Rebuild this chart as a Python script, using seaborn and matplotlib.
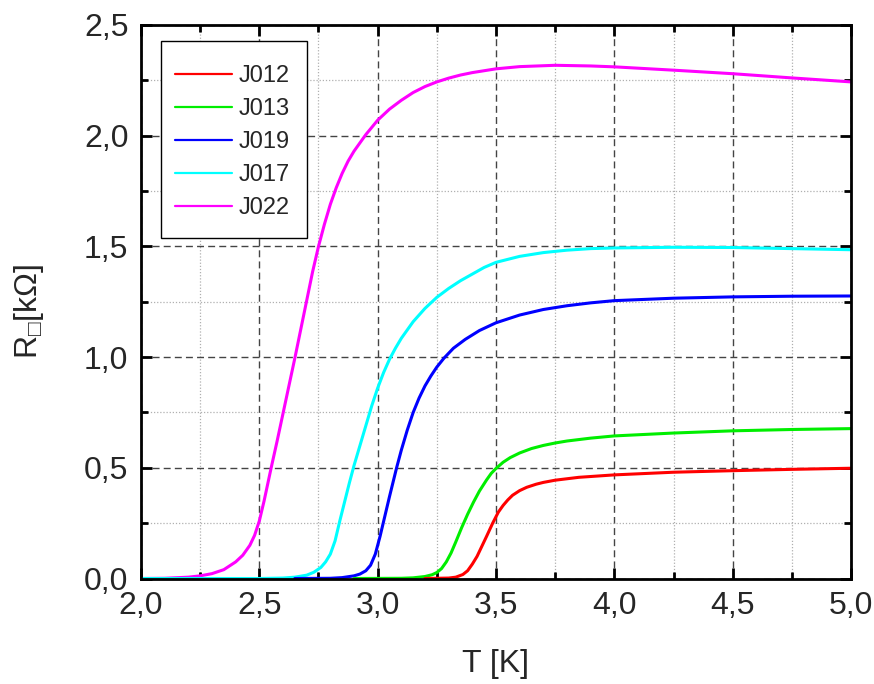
import matplotlib
matplotlib.use("Agg")
import matplotlib.pyplot as plt
from matplotlib.ticker import MultipleLocator, FuncFormatter
from matplotlib.lines import Line2D
from matplotlib.patches import Rectangle
import seaborn as sns

# Sheet resistance R (kOhm) vs temperature T (K) for five films
t_j022 = [2.0, 2.10, 2.20, 2.25, 2.30, 2.35, 2.40, 2.43, 2.46, 2.48, 2.50, 2.52, 2.55,
          2.575, 2.60, 2.625, 2.65, 2.675, 2.70, 2.725, 2.75, 2.775, 2.80, 2.825, 2.85,
          2.875, 2.90, 2.95, 3.00, 3.05, 3.10, 3.15, 3.20, 3.25, 3.30, 3.35, 3.40, 3.50,
          3.60, 3.75, 3.90, 4.0, 4.25, 4.5, 4.75, 5.0]
r_j022 = [0.0, 0.001, 0.006, 0.012, 0.022, 0.04, 0.075, 0.105, 0.15, 0.195, 0.26, 0.35, 0.50,
          0.62, 0.745, 0.87, 0.995, 1.125, 1.255, 1.385, 1.50, 1.60, 1.69, 1.765, 1.83,
          1.885, 1.93, 2.005, 2.07, 2.12, 2.16, 2.195, 2.222, 2.243, 2.26, 2.274, 2.285,
          2.302, 2.312, 2.318, 2.315, 2.311, 2.296, 2.28, 2.261, 2.243]

t_j017 = [2.0, 2.5, 2.6, 2.65, 2.70, 2.73, 2.76, 2.78, 2.80, 2.82, 2.84, 2.86, 2.88, 2.90,
          2.925, 2.95, 2.975, 3.0, 3.025, 3.05, 3.075, 3.10, 3.15, 3.20, 3.25, 3.30, 3.35,
          3.40, 3.45, 3.50, 3.60, 3.70, 3.80, 3.90, 4.0, 4.25, 4.5, 4.75, 5.0]
r_j017 = [0.0, 0.0, 0.002, 0.006, 0.015, 0.028, 0.05, 0.075, 0.11, 0.17, 0.26, 0.345, 0.43,
          0.51, 0.60, 0.69, 0.78, 0.86, 0.93, 0.99, 1.04, 1.085, 1.16, 1.22, 1.27, 1.31,
          1.345, 1.375, 1.405, 1.428, 1.455, 1.472, 1.483, 1.49, 1.493, 1.496, 1.495, 1.49,
          1.485]

t_j019 = [2.65, 2.80, 2.85, 2.90, 2.925, 2.95, 2.97, 2.99, 3.01, 3.03, 3.05, 3.08, 3.10,
          3.125, 3.15, 3.175, 3.20, 3.225, 3.25, 3.28, 3.32, 3.37, 3.43, 3.50, 3.60, 3.70,
          3.80, 3.90, 4.0, 4.25, 4.5, 4.75, 5.0]
r_j019 = [0.0, 0.001, 0.004, 0.012, 0.02, 0.035, 0.06, 0.11, 0.19, 0.28, 0.37, 0.50, 0.58,
          0.67, 0.75, 0.815, 0.87, 0.915, 0.955, 0.995, 1.04, 1.08, 1.12, 1.155, 1.19, 1.215,
          1.232, 1.245, 1.255, 1.266, 1.272, 1.275, 1.276]

t_j013 = [2.9, 3.10, 3.15, 3.20, 3.23, 3.25, 3.27, 3.29, 3.31, 3.33, 3.355, 3.38, 3.405,
          3.43, 3.46, 3.48, 3.50, 3.53, 3.56, 3.60, 3.65, 3.70, 3.75, 3.80, 3.90, 4.0,
          4.25, 4.5, 4.75, 5.0]
r_j013 = [0.0, 0.001, 0.003, 0.009, 0.017, 0.027, 0.045, 0.075, 0.115, 0.165, 0.23, 0.29,
          0.345, 0.395, 0.445, 0.475, 0.497, 0.525, 0.546, 0.567, 0.587, 0.601, 0.612,
          0.621, 0.634, 0.644, 0.657, 0.667, 0.673, 0.677]

t_j012 = [3.2, 3.30, 3.33, 3.36, 3.38, 3.40, 3.42, 3.44, 3.46, 3.486, 3.51, 3.53, 3.55,
          3.57, 3.60, 3.63, 3.67, 3.70, 3.75, 3.85, 4.0, 4.25, 4.5, 4.75, 5.0]
r_j012 = [0.0, 0.002, 0.006, 0.018, 0.035, 0.065, 0.10, 0.145, 0.19, 0.25, 0.30, 0.33,
          0.355, 0.376, 0.397, 0.412, 0.426, 0.434, 0.444, 0.457, 0.468, 0.48, 0.487,
          0.493, 0.498]

labels = ["J012", "J013", "J019", "J017", "J022"]
colors = {"J012": "#ff0000", "J013": "#00ee00", "J019": "#0000ff",
          "J017": "#00ffff", "J022": "#ff00ff"}
series = {"J012": (t_j012, r_j012), "J013": (t_j013, r_j013),
          "J019": (t_j019, r_j019), "J017": (t_j017, r_j017),
          "J022": (t_j022, r_j022)}

sns.set_theme(style="white")
plt.rcParams["font.family"] = ["Liberation Sans", "DejaVu Sans"]
plt.rcParams["mathtext.fontset"] = "custom"
plt.rcParams["mathtext.rm"] = "Liberation Sans"
plt.rcParams["mathtext.it"] = "Liberation Sans:italic"
plt.rcParams["mathtext.fallback"] = "stixsans"

fig = plt.figure(figsize=(8.74, 6.84), dpi=100)
ax = fig.add_axes([141 / 874, 1 - 578.5 / 684, 710 / 874, 553.5 / 684])

# films with a later onset are drawn last so they lie on top along the baseline
for name in ["J022", "J017", "J019", "J013", "J012"]:
    t, r = series[name]
    sns.lineplot(x=t, y=r, ax=ax, color=colors[name], lw=2.2, estimator=None,
                 sort=False, legend=False)

ax.set_xlim(2.0, 5.0)
ax.set_ylim(0.0, 2.5)
ax.xaxis.set_major_locator(MultipleLocator(0.5))
ax.xaxis.set_minor_locator(MultipleLocator(0.25))
ax.yaxis.set_major_locator(MultipleLocator(0.5))
ax.yaxis.set_minor_locator(MultipleLocator(0.25))
fmt = FuncFormatter(lambda v, p: f"{v:.1f}".replace(".", ","))
ax.xaxis.set_major_formatter(fmt)
ax.yaxis.set_major_formatter(fmt)

ax.grid(which="major", color="#444444", ls=(0, (5, 3)), lw=1.0)
ax.grid(which="minor", color="#b0b0b0", ls=(0, (1, 1.5)), lw=0.9)
ax.set_axisbelow(True)

ax.tick_params(which="both", direction="in", top=True, right=True,
               bottom=True, left=True, width=2.0, color="black")
ax.tick_params(which="major", length=8, labelsize=23, pad=9)
ax.tick_params(which="minor", length=5)
for s in ax.spines.values():
    s.set_linewidth(2.0)
    s.set_color("black")

ax.set_xlabel("T [K]", fontsize=23)
ax.set_ylabel(r"R$_{\mathrm{□}}$[kΩ]", fontsize=23)
ax.xaxis.set_label_coords(0.5, -0.127)
ax.yaxis.set_label_coords(-0.134, 0.483)

# legend box
ax.add_patch(Rectangle((0.0282, 0.6152), 0.2056, 0.3559, transform=ax.transAxes,
                       facecolor="white", edgecolor="black", lw=1.0, zorder=4))
handles = [Line2D([0], [0], color=colors[n], lw=1.6) for n in labels]
leg = ax.legend(handles, labels, loc="upper left", bbox_to_anchor=(0.0479, 0.9277),
                fontsize=17, frameon=False, handlelength=2.4, handletextpad=0.3,
                labelspacing=0.47, borderpad=0.0, borderaxespad=0.0)
leg.set_zorder(5)

fig.savefig("out.png", dpi=100)
